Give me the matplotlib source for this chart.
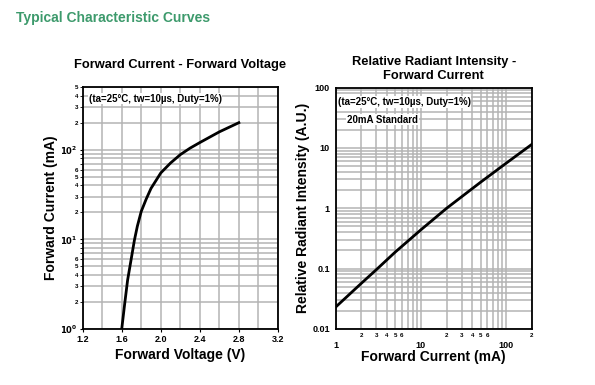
import matplotlib

matplotlib.use("Agg")
import matplotlib.pyplot as plt
from matplotlib.ticker import FixedLocator, FixedFormatter, NullFormatter

plt.rcParams["font.family"] = ["Liberation Sans", "DejaVu Sans"]

# Forward current vs forward voltage
vf = [1.6, 1.63, 1.66, 1.7, 1.73, 1.76, 1.8, 1.85, 1.9, 2.0, 2.1, 2.2, 2.3, 2.4,
      2.6, 2.8]
if_ma = [1.0, 1.9, 3.5, 6.3, 9.8, 14, 20.5, 28, 37, 55, 71, 88, 104, 120, 158, 200]

# Relative radiant intensity vs forward current (20 mA = 1)
ifc = [1, 2, 3, 5, 10, 20, 50, 100, 200]
rel = [0.023, 0.057, 0.096, 0.188, 0.44, 1.0, 2.7, 5.6, 11.5]

GREEN = "#3d9a6c"
GRID = "#b4b4b4"
NOTE = "(ta=25°C, tw=10µs, Duty=1%)"

fig = plt.figure(figsize=(5.95, 3.85), dpi=100)
fig.text(0.027, 0.953, "Typical Characteristic Curves", color=GREEN,
         fontsize=10, fontweight="bold", va="center", ha="left")

# ---- left: IF - VF ----
ax1 = fig.add_axes([0.139, 0.1455, 0.328, 0.6285])
ax1.set_yscale("log")
ax1.set_xlim(1.2, 3.2)
ax1.set_ylim(1, 500)
ax1.plot(vf, if_ma, color="black", lw=2, zorder=3)
ax1.set_xticks([1.2, 1.6, 2.0, 2.4, 2.8, 3.2])
ax1.set_xticks([1.4, 1.8, 2.2, 2.6, 3.0], minor=True)
ax1.set_xticklabels(["1.2", "1.6", "2.0", "2.4", "2.8", "3.2"],
                    fontsize=6.5, fontweight="bold")
ax1.set_yticks([1, 10, 100])
ax1.set_yticklabels([r"$\mathbf{10^0}$", r"$\mathbf{10^1}$", r"$\mathbf{10^2}$"],
                    fontsize=6)
minors = [m * 10 ** d for d in range(3) for m in range(2, 10) if m * 10 ** d <= 500]
labels = [str(int(v))[0] if str(int(v))[0] in "23456" else "" for v in minors]
ax1.yaxis.set_minor_locator(FixedLocator(minors))
ax1.yaxis.set_minor_formatter(FixedFormatter(labels))
ax1.tick_params(axis="y", which="minor", labelsize=4.5, length=2, pad=1)
ax1.tick_params(axis="both", which="major", length=2, pad=2)
ax1.tick_params(axis="x", which="minor", length=0)
for lab in ax1.get_yticklabels(minor=True):
    lab.set_fontweight("bold")
ax1.grid(True, which="both", color=GRID, lw=1.1)
ax1.set_axisbelow(True)
for s in ax1.spines.values():
    s.set_linewidth(1.3)
ax1.set_xlabel("Forward Voltage (V)", fontsize=10, fontweight="bold", labelpad=3)
ax1.set_ylabel("Forward Current (mA)", fontsize=10, fontweight="bold", labelpad=1)
ax1.set_title("Forward Current - Forward Voltage", fontsize=9.3,
              fontweight="bold", pad=14)
ax1.text(0.03, 0.952, NOTE, transform=ax1.transAxes, fontsize=7,
         fontweight="bold", va="center", ha="left",
         bbox=dict(facecolor="white", edgecolor="none", pad=0.5))

# ---- right: relative intensity - IF ----
ax2 = fig.add_axes([0.564, 0.1455, 0.330, 0.627])
ax2.set_xscale("log")
ax2.set_yscale("log")
ax2.set_xlim(1, 200)
ax2.set_ylim(0.01, 100)
ax2.plot(ifc, rel, color="black", lw=2, zorder=3)
ax2.set_xticks([1, 10, 100])
ax2.set_xticklabels(["1", "10", "100"], fontsize=6.5, fontweight="bold")
xmin = [m * 10 ** d for d in range(3) for m in range(2, 10) if m * 10 ** d <= 200]
xlab = [str(int(v))[0] if str(int(v))[0] in "23456" else "" for v in xmin]
ax2.xaxis.set_minor_locator(FixedLocator(xmin))
ax2.xaxis.set_minor_formatter(FixedFormatter(xlab))
ax2.tick_params(axis="x", which="minor", labelsize=4.5, length=0, pad=3)
for lab in ax2.get_xticklabels(minor=True):
    lab.set_fontweight("bold")
ax2.tick_params(axis="x", which="major", length=0, pad=9)
ax2.set_yticks([0.01, 0.1, 1, 10, 100])
ax2.set_yticklabels(["0.01", "0.1", "1", "10", "100"], fontsize=6.5,
                    fontweight="bold")
ax2.yaxis.set_minor_locator(FixedLocator(
    [m * 10.0 ** d for d in range(-2, 2) for m in range(2, 10)]))
ax2.yaxis.set_minor_formatter(NullFormatter())
ax2.tick_params(axis="y", which="both", length=0, pad=4)
ax2.grid(True, which="both", color=GRID, lw=1.1)
ax2.set_axisbelow(True)
for s in ax2.spines.values():
    s.set_linewidth(1.3)
ax2.set_xlabel("Forward Current (mA)", fontsize=10, fontweight="bold", labelpad=0)
ax2.set_ylabel("Relative Radiant Intensity (A.U.)", fontsize=10,
               fontweight="bold", labelpad=2)
ax2.set_title("Relative Radiant Intensity -\nForward Current", fontsize=9.3,
              fontweight="bold", pad=6, linespacing=1.3)
ax2.text(0.01, 0.94, NOTE, transform=ax2.transAxes, fontsize=7,
         fontweight="bold", va="center", ha="left",
         bbox=dict(facecolor="white", edgecolor="none", pad=0.5))
ax2.text(0.058, 0.867, "20mA Standard", transform=ax2.transAxes, fontsize=7,
         fontweight="bold", va="center", ha="left",
         bbox=dict(facecolor="white", edgecolor="none", pad=0.5))

fig.savefig("out.png", dpi=100)
